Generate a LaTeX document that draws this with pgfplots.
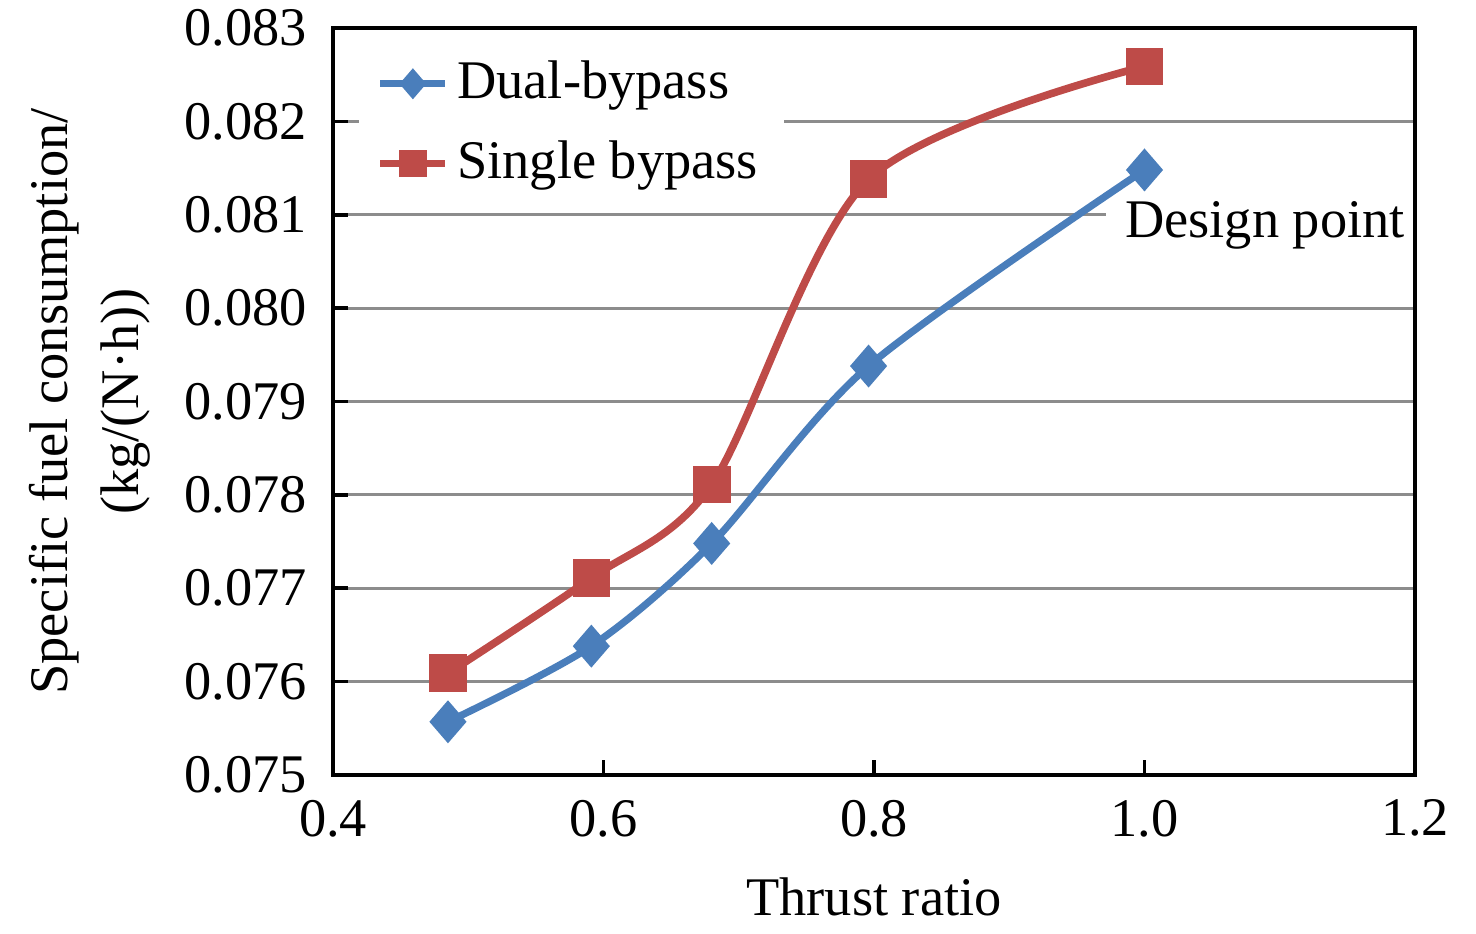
\documentclass[border=0pt]{standalone}
\usepackage{pgfplots}
\pgfplotsset{compat=1.18}
\usepackage{fontspec}
\setmainfont{Liberation Serif}
\definecolor{cblue}{RGB}{74,126,187}
\definecolor{cred}{RGB}{190,75,72}
\definecolor{cgrid}{RGB}{140,140,140}
\begin{document}
\fontsize{13.6}{17.75}\selectfont
\begin{tikzpicture}
\begin{axis}[
  set layers,
  scale only axis, width=270.5pt, height=186.75pt,
  xmin=0.4, xmax=1.2, ymin=0.075, ymax=0.083,
  scaled y ticks=false, scaled x ticks=false,
  xtick={0.4,0.6,0.8,1.0,1.2},
  xticklabels={0.4,0.6,0.8,1.0,1.2},
  ytick={0.075,0.076,0.077,0.078,0.079,0.080,0.081,0.082,0.083},
  yticklabels={0.075,0.076,0.077,0.078,0.079,0.080,0.081,0.082,0.083},
  tick align=inside, xtick pos=bottom, ytick pos=left,
  major tick length=3.75pt,
  ymajorgrids, grid style={cgrid, line width=0.75pt},
  axis line style={line width=0.9pt},
  tick style={black, line width=0.9pt},
  ticklabel style={font=\fontsize{13.6}{16}\selectfont},
  xticklabel style={yshift=-1.5pt},
  yticklabel style={xshift=-1.8pt},
  label style={font=\fontsize{13.6}{17.75}\selectfont},
  xlabel={Thrust ratio},
  xlabel style={at={(axis description cs:0.5,-0.163)}, anchor=center},
  ylabel={Specific fuel consumption/\\(kg/(N·h))},
  ylabel style={at={(axis description cs:-0.225,0.5)}, anchor=center, align=center},
  legend style={draw=none, fill=white, at={(axis description cs:0.023,1)}, anchor=north west,
    yshift=-3pt, inner xsep=4.5pt, inner ysep=3pt, row sep=4.5pt,
    nodes={inner sep=2pt}, font=\fontsize{13.6}{16}\selectfont},
  legend cell align=left,
  legend image post style={mark size=2.5pt},
  legend image code/.code={%
    \draw[mark repeat=2, mark phase=2, #1]
      plot coordinates {(0pt,0pt) (8.1pt,0pt) (16.25pt,0pt)};},
]
\addplot[color=cblue, line width=1.8pt, smooth, mark=diamond*, mark size=4pt,
  mark options={solid, draw=none, fill=cblue, xscale=1.15}]
  coordinates {(0.485,0.07557) (0.591,0.07638) (0.680,0.07748) (0.796,0.07938) (1.000,0.08148)};
\addlegendentry{Dual-bypass}
\addplot[color=cred, line width=1.9pt, smooth, mark=square*, mark size=3.75pt,
  mark options={solid, draw=none, fill=cred}]
  coordinates {(0.485,0.07609) (0.591,0.07711) (0.680,0.07811) (0.796,0.08138) (1.000,0.08259)};
\addlegendentry{Single bypass}
\begin{pgfonlayer}{axis ticks}
\node[fill=white, anchor=base, inner xsep=4.75pt,
  font=\fontsize{13.6}{16}\selectfont] at (axis cs:1.089,0.08076) {Design point};
\end{pgfonlayer}
\end{axis}
\pgfresetboundingbox
\useasboundingbox (-83.25pt,-39.5pt) rectangle (285.75pt,193.75pt);
\end{tikzpicture}
\end{document}
